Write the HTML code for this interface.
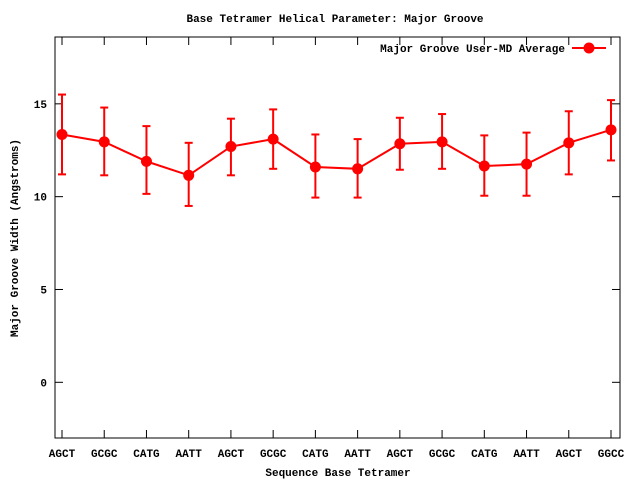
<!DOCTYPE html>
<html><head><meta charset="utf-8"><style>
body{margin:0;background:#fff;}
svg text{font-family:"Liberation Mono","DejaVu Sans Mono",monospace;font-size:11px;font-weight:bold;fill:#000;}
</style></head><body>
<svg id="chart" width="640" height="480" viewBox="0 0 640 480">
<rect width="640" height="480" fill="#fff"/>
<text x="335" y="22" text-anchor="middle">Base Tetramer Helical Parameter: Major Groove</text>
<text x="338" y="476" text-anchor="middle">Sequence Base Tetramer</text>
<text transform="translate(18,238) rotate(-90)" text-anchor="middle">Major Groove Width (Angstroms)</text>
<g id="axes"></g>
<g id="series"></g>
<g>
<text x="565" y="52" text-anchor="end">Major Groove User-MD Average</text>
<line x1="572" y1="48" x2="606" y2="48" stroke="#f00" stroke-width="2"/>
<circle cx="589" cy="48" r="5.5" fill="#f00"/>
</g>
</svg>
<script>
const categories=["AGCT","GCGC","CATG","AATT","AGCT","GCGC","CATG","AATT","AGCT","GCGC","CATG","AATT","AGCT","GGCC"];
const means=[13.35,12.95,11.9,11.15,12.7,13.1,11.6,11.5,12.85,12.95,11.65,11.75,12.9,13.6];
const errHigh=[15.5,14.8,13.8,12.9,14.2,14.7,13.35,13.1,14.25,14.45,13.3,13.45,14.6,15.2];
const errLow=[11.2,11.15,10.15,9.5,11.15,11.5,9.95,9.95,11.45,11.5,10.05,10.05,11.2,11.95];
const yTicks=[0,5,10,15];
const NS="http://www.w3.org/2000/svg";
const L=55,R=620,T=37,B=438,yMin=-3,yMax=18.6;
const X0=62,X1=611;
function xs(i){return X0+(X1-X0)*i/(categories.length-1);}
function ys(v){return B-(v-yMin)/(yMax-yMin)*(B-T);}
function mk(tag,attrs,parent){const e=document.createElementNS(NS,tag);for(const k in attrs)e.setAttribute(k,attrs[k]);parent.appendChild(e);return e;}
const ax=document.getElementById('axes'),sr=document.getElementById('series');
const frame=mk('rect',{x:L,y:T,width:R-L,height:B-T,fill:'none',stroke:'#000','stroke-width':1},ax);


yTicks.forEach(v=>{const y=ys(v);
 const t=mk('line',{x1:L,y1:y,x2:L+8,y2:y,stroke:'#000'},ax);
 
 
 const t2=mk('line',{x1:R-8,y1:y,x2:R,y2:y,stroke:'#000'},ax);
 
 
 const lb=mk('text',{x:L-8,y:y+4,'text-anchor':'end'},ax);lb.textContent=v;
 
 
});
categories.forEach((c,i)=>{const x=xs(i);
 const t=mk('line',{x1:x,y1:B,x2:x,y2:B-8,stroke:'#000'},ax);
 
 
 const t2=mk('line',{x1:x,y1:T,x2:x,y2:T+8,stroke:'#000'},ax);
 
 
 const lb=mk('text',{x:x,y:B+19,'text-anchor':'middle'},ax);lb.textContent=c;
 
 
});
const pl=mk('polyline',{points:means.map((v,i)=>xs(i)+','+ys(v)).join(' '),fill:'none',stroke:'#f00','stroke-width':2},sr);


means.forEach((v,i)=>{const x=xs(i);
 const g=mk('g',{stroke:'#f00','stroke-width':2},sr);
 
 
 mk('line',{x1:x,y1:ys(errHigh[i]),x2:x,y2:ys(errLow[i])},g);
 mk('line',{x1:x-4,y1:ys(errHigh[i]),x2:x+4,y2:ys(errHigh[i])},g);
 mk('line',{x1:x-4,y1:ys(errLow[i]),x2:x+4,y2:ys(errLow[i])},g);
 const p=mk('circle',{cx:x,cy:ys(v),r:5.5,fill:'#f00'},sr);
 
 
});
</script>
</body></html>
